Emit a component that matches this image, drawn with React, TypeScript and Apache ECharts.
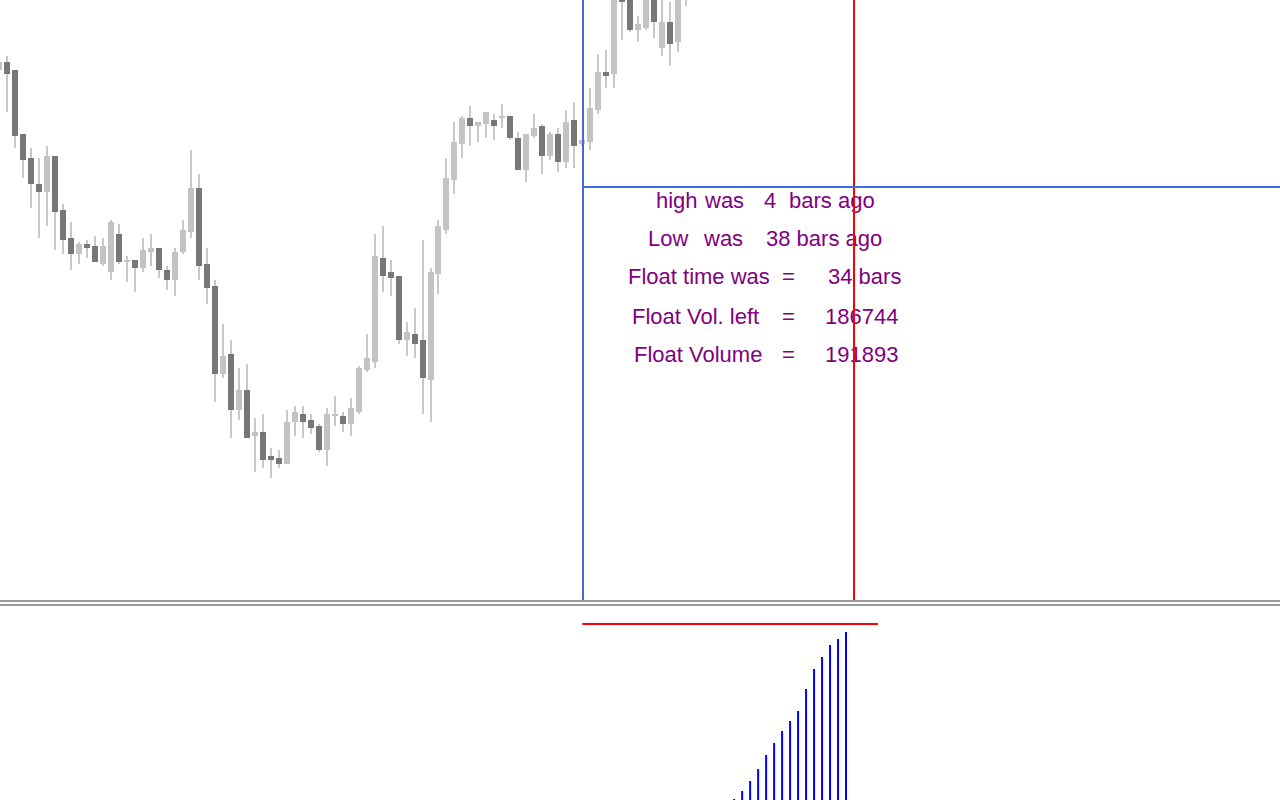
import React, { useEffect, useRef } from "react";
import * as echarts from "echarts";

// ---- price bars (index of first bar, then open/close/high/low per bar) ----
const firstIndex = -1;
const opens = [
  530, 538, 530, 466, 442, 416, 408, 444, 390, 362, 346, 356, 354, 336, 328, 366, 338, 340, 332, 348,
  352, 330, 320, 348, 368, 412, 336, 314, 226, 246, 190, 210, 164, 168, 144, 142, 136, 178, 186, 180,
  174, 150, 184, 184, 176, 188, 230, 238, 342, 328, 324, 260, 266, 260, 220, 326, 370, 420, 456, 482,
  474, 476, 480, 482, 484, 462, 430, 464, 474, 444, 466, 438, 480, 456, 458, 490, 528, 526, 630, 620,
  570, 572, 615, 552, 578, 558, 610,
];
const closes = [
  538, 526, 464, 440, 416, 408, 444, 388, 360, 346, 356, 352, 338, 354, 378, 338, 340, 332, 350, 352,
  330, 320, 348, 370, 412, 334, 312, 226, 244, 190, 210, 162, 168, 140, 140, 136, 178, 188, 178, 172,
  150, 186, 186, 176, 192, 232, 242, 344, 324, 322, 260, 268, 256, 222, 328, 374, 422, 458, 482, 474,
  478, 488, 474, 484, 462, 430, 466, 472, 444, 466, 438, 478, 454, 460, 492, 528, 524, 610, 598, 570,
  576, 610, 578, 578, 556, 605, 640,
];
const highs = [
  540, 544, 530, 466, 452, 442, 454, 444, 396, 378, 358, 360, 364, 362, 380, 376, 344, 340, 362, 366,
  352, 334, 352, 380, 450, 426, 352, 320, 276, 260, 232, 236, 182, 186, 152, 150, 190, 194, 194, 186,
  176, 192, 204, 188, 202, 234, 266, 366, 374, 340, 324, 278, 292, 360, 332, 380, 442, 478, 484, 494,
  478, 488, 486, 496, 484, 468, 466, 486, 476, 468, 472, 490, 498, 460, 512, 546, 550, 620, 640, 630,
  584, 620, 625, 610, 598, 615, 650,
];
const lows = [
  528, 488, 452, 422, 392, 362, 374, 350, 346, 330, 336, 342, 338, 334, 320, 336, 318, 308, 328, 334,
  322, 310, 304, 346, 362, 320, 296, 198, 222, 162, 180, 162, 128, 132, 122, 132, 136, 164, 162, 166,
  148, 134, 174, 168, 164, 186, 228, 232, 308, 304, 256, 244, 242, 186, 178, 306, 366, 406, 442, 454,
  458, 462, 460, 472, 460, 430, 418, 462, 426, 440, 428, 432, 432, 454, 450, 486, 512, 512, 560, 568,
  558, 570, 562, 544, 534, 548, 594,
];

// ---- float study ----
const floatStart = 72;
const floatEnd = 106;
const floatLevel = 413;
const highBarsAgo = 4;
const lowBarsAgo = 38;
const floatVolLeft = 186744;
const floatVolume = 191893;
const floatVolumeLineEnd = 109;

// cumulative volume histogram (visible part)
const volIndex = [91, 92, 93, 94, 95, 96, 97, 98, 99, 100, 101, 102, 103, 104, 105];
const volValues = [
  79260, 84410, 90850, 98570, 107580, 115300, 123030, 129460, 135900, 150060, 162930, 170650,
  178380, 182240, 186744,
];

// ---- info texts ----
const infoTexts: string[][] = [
  ["high", "was", String(highBarsAgo), "bars ago"],
  ["Low", "was", `${lowBarsAgo} bars ago`],
  ["Float time was", "=", `${floatEnd - floatStart} bars`],
  ["Float Vol. left", "=", String(floatVolLeft)],
  ["Float Volume", "=", String(floatVolume)],
];

const X_MIN = -0.876;
const X_MAX = 159.31;

export default function App() {
  const ref = useRef<HTMLDivElement>(null);

  useEffect(() => {
    if (!ref.current) return;
    const chart = echarts.init(ref.current, null, { renderer: "svg" });

    const candleData = opens.map((o, i) => [firstIndex + i, o, closes[i], lows[i], highs[i]]);
    const volData = volIndex.map((k, i) => [k, volValues[i]]);

    const textX = [
      [656, 705, 764, 789],
      [648, 704, 766],
      [628, 782, 828],
      [632, 782, 825],
      [634, 782, 825],
    ];
    const textY = [200, 238, 276, 316, 354];

    const graphics: any[] = [
      { type: "rect", shape: { x: 0, y: 600, width: 1280, height: 2 }, style: { fill: "#9a9a9e" }, silent: true },
      { type: "rect", shape: { x: 0, y: 604, width: 1280, height: 2 }, style: { fill: "#9a9a9e" }, silent: true },
    ];
    infoTexts.forEach((row, r) => {
      row.forEach((t, c) => {
        graphics.push({
          type: "text",
          x: textX[r][c],
          y: textY[r],
          z: 0,
          silent: true,
          style: {
            text: t,
            fill: "#800080",
            fontSize: 22,
            fontFamily: "Liberation Sans, Arial, sans-serif",
            align: "left",
            verticalAlign: "middle",
          },
        });
      });
    });

    const option: any = {
      animation: false,
      backgroundColor: "#ffffff",
      grid: [
        { left: 0, right: 0, top: 0, height: 600 },
        { left: 0, right: 0, top: 606, height: 194 },
      ],
      xAxis: [
        { type: "value", gridIndex: 0, min: X_MIN, max: X_MAX, show: false, splitLine: { show: false } },
        { type: "value", gridIndex: 1, min: X_MIN, max: X_MAX, show: false, splitLine: { show: false } },
      ],
      yAxis: [
        { type: "value", gridIndex: 0, min: 0, max: 600, show: false, splitLine: { show: false } },
        { type: "value", gridIndex: 1, min: 78619, max: 203478, show: false, splitLine: { show: false } },
      ],
      graphic: graphics,
      series: [
        {
          type: "custom",
          xAxisIndex: 0,
          yAxisIndex: 0,
          clip: true,
          z: 2,
          encode: { x: 0, y: [1, 2, 3, 4] },
          data: candleData,
          renderItem: (params: any, api: any) => {
            const k = api.value(0);
            const o = api.value(1);
            const c = api.value(2);
            const l = api.value(3);
            const h = api.value(4);
            const po = api.coord([k, o]);
            const pc = api.coord([k, c]);
            const ph = api.coord([k, h]);
            const pl = api.coord([k, l]);
            const cx = Math.round(po[0]);
            const yTop = Math.round(Math.min(po[1], pc[1]));
            const yBot = Math.round(Math.max(po[1], pc[1]));
            const yH = Math.round(ph[1]);
            const yL = Math.round(pl[1]);
            return {
              type: "group",
              children: [
                {
                  type: "rect",
                  shape: { x: cx - 1, y: yH, width: 2, height: Math.max(1, yL - yH) },
                  style: { fill: "#c8c8c8" },
                },
                {
                  type: "rect",
                  shape: { x: cx - 3, y: yTop, width: 6, height: Math.max(1, yBot - yTop) },
                  style: { fill: c >= o ? "#c3c3c3" : "#777777" },
                },
              ],
            };
          },
          markLine: {
            silent: true,
            symbol: ["none", "none"],
            z: 10,
            label: { show: false },
            data: [
              { xAxis: floatStart, lineStyle: { color: "#4169e1", width: 2, type: "solid" } },
              { xAxis: floatEnd, lineStyle: { color: "#ff0000", width: 2, type: "solid" } },
              [
                { coord: [floatStart, floatLevel], lineStyle: { color: "#4169e1", width: 2, type: "solid" } },
                { coord: [X_MAX, floatLevel] },
              ],
            ],
          },
        },
        {
          type: "bar",
          xAxisIndex: 1,
          yAxisIndex: 1,
          barWidth: 2,
          clip: true,
          itemStyle: { color: "#0000ff" },
          data: volData,
          markLine: {
            silent: true,
            symbol: ["none", "none"],
            label: { show: false },
            data: [
              [
                { coord: [floatStart, floatVolume], lineStyle: { color: "#ff0000", width: 2, type: "solid" } },
                { coord: [floatVolumeLineEnd, floatVolume] },
              ],
            ],
          },
        },
      ],
    };

    chart.setOption(option);
    return () => chart.dispose();
  }, []);

  return (
    <div
      ref={ref}
      style={{ position: "fixed", left: 0, top: 0, width: 1280, height: 800, background: "#ffffff" }}
    />
  );
}
